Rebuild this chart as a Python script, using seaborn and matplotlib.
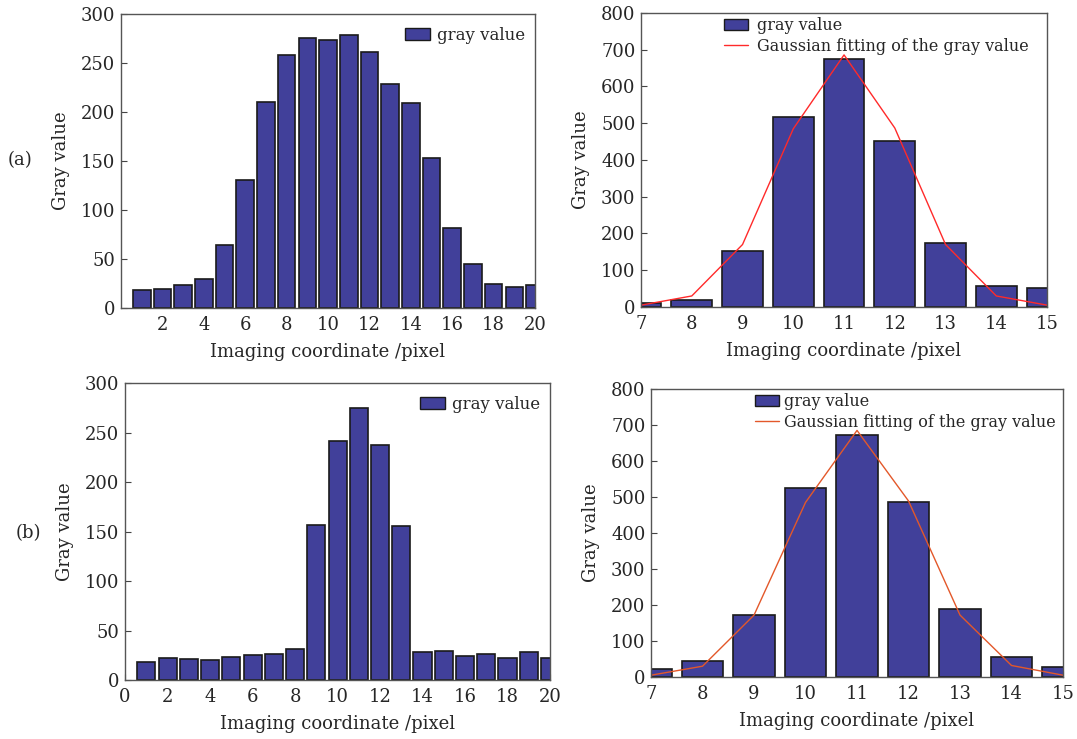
import numpy as np
import pandas as pd
import matplotlib
matplotlib.use("Agg")
import matplotlib.pyplot as plt
import seaborn as sns
from matplotlib.patches import Patch
from matplotlib.lines import Line2D

# ---- data ----
coord_a = list(range(1, 21))
gray_a = [18, 19, 23, 30, 64, 131, 210, 258, 276, 273, 279, 261, 229, 209, 153, 82, 45, 25, 21, 23]

coord_b = list(range(1, 21))
gray_b = [18.5, 22.6, 21.6, 20.2, 23.3, 25.6, 26, 31, 157, 241, 275, 237, 156, 28.3, 29, 24, 26.6, 22.2, 28.6, 22.6]

coord_fit = list(range(7, 16))
gray_fit_a = [11, 20, 153, 517, 674, 453, 173, 56, 51]
gauss_a = [5, 30, 170, 485, 686, 487, 170, 30, 5]
gray_fit_b = [23, 44, 171, 524, 673, 485, 190, 56, 27]
gauss_b = [5, 30, 172, 485, 685, 489, 172, 32, 5]

xticks_a = [2, 4, 6, 8, 10, 12, 14, 16, 18, 20]
xticks_b = [0, 2, 4, 6, 8, 10, 12, 14, 16, 18, 20]
yticks_small = [0, 50, 100, 150, 200, 250, 300]
yticks_big = [0, 100, 200, 300, 400, 500, 600, 700, 800]

bar_color = "#41409A"
edge_color = "#1a1a1a"

sns.set_theme(style="white")
plt.rcParams["font.family"] = ["DejaVu Serif"]
plt.rcParams["mathtext.fontset"] = "dejavuserif"

fig = plt.figure(figsize=(10.77, 7.39), dpi=100)
ax_tl = fig.add_axes([0.1124, 0.5832, 0.3844, 0.3978])
ax_tr = fig.add_axes([0.5952, 0.5846, 0.3770, 0.3978])
ax_bl = fig.add_axes([0.1161, 0.0798, 0.3946, 0.4019])
ax_br = fig.add_axes([0.6045, 0.0839, 0.3825, 0.3897])

tick_fs = 13
label_fs = 13
leg_fs = 11.5


def style_axes(ax, xticks, yticks, xlim, ylim):
    ax.set_xlim(*xlim)
    ax.set_ylim(*ylim)
    ax.set_xticks(xticks)
    ax.set_yticks(yticks)
    ax.set_xticklabels([str(t) for t in xticks], fontsize=tick_fs)
    ax.set_yticklabels([str(t) for t in yticks], fontsize=tick_fs)
    ax.tick_params(direction="in", length=4, width=0.8, color="#444444",
                   left=True, bottom=True)
    ax.tick_params(axis="x", pad=6)
    ax.tick_params(axis="y", pad=4)
    for s in ax.spines.values():
        s.set_color("#555555")
        s.set_linewidth(1.0)
    ax.set_xlabel("Imaging coordinate /pixel", fontsize=label_fs, labelpad=6)
    ax.set_ylabel("Gray value", fontsize=label_fs, labelpad=8)


def bars(ax, x, y, width):
    df = pd.DataFrame({"x": x, "y": y})
    sns.barplot(data=df, x="x", y="y", native_scale=True, width=width,
                color=bar_color, saturation=1, edgecolor=edge_color,
                linewidth=1.2, ax=ax, errorbar=None)


# top-left
bars(ax_tl, coord_a, gray_a, 0.85)
style_axes(ax_tl, xticks_a, yticks_small, (0, 20), (0, 300))
ax_tl.legend(handles=[Patch(facecolor=bar_color, edgecolor=edge_color, label="gray value")],
             loc="upper right", frameon=False, fontsize=12,
             handlelength=1.5, handleheight=0.7, handletextpad=0.4,
             bbox_to_anchor=(1.0, 0.99), borderaxespad=0.2)

# bottom-left
bars(ax_bl, coord_b, gray_b, 0.85)
style_axes(ax_bl, xticks_b, yticks_small, (0, 20), (0, 300))
ax_bl.legend(handles=[Patch(facecolor=bar_color, edgecolor=edge_color, label="gray value")],
             loc="upper right", frameon=False, fontsize=12,
             handlelength=1.5, handleheight=0.7, handletextpad=0.4,
             bbox_to_anchor=(1.0, 0.99), borderaxespad=0.2)

# top-right
bars(ax_tr, coord_fit, gray_fit_a, 0.8)
sns.lineplot(x=coord_fit, y=gauss_a, color="#FF2A2A", linewidth=1.0, ax=ax_tr)
style_axes(ax_tr, coord_fit, yticks_big, (7, 15), (0, 800))
ax_tr.legend(handles=[Patch(facecolor=bar_color, edgecolor=edge_color, label="gray value"),
                      Line2D([], [], color="#FF2A2A", lw=1.0, label="Gaussian fitting of the gray value")],
             loc="upper left", bbox_to_anchor=(0.18, 1.02), frameon=False, fontsize=leg_fs,
             handlelength=1.5, handleheight=0.7, handletextpad=0.6, labelspacing=0.25,
             borderaxespad=0.2)

# bottom-right
bars(ax_br, coord_fit, gray_fit_b, 0.8)
sns.lineplot(x=coord_fit, y=gauss_b, color="#E3582A", linewidth=1.0, ax=ax_br)
style_axes(ax_br, coord_fit, yticks_big, (7, 15), (0, 800))
ax_br.legend(handles=[Patch(facecolor=bar_color, edgecolor=edge_color, label="gray value"),
                      Line2D([], [], color="#E3582A", lw=1.0, label="Gaussian fitting of the gray value")],
             loc="upper left", bbox_to_anchor=(0.23, 1.02), frameon=False, fontsize=leg_fs,
             handlelength=1.5, handleheight=0.7, handletextpad=0.3, labelspacing=0.25,
             borderaxespad=0.2)

fig.text(20 / 1077, 1 - 160 / 739, "(a)", fontsize=label_fs, ha="center", va="center")
fig.text(28 / 1077, 1 - 533 / 739, "(b)", fontsize=label_fs, ha="center", va="center")

fig.savefig("out.png", dpi=100)
